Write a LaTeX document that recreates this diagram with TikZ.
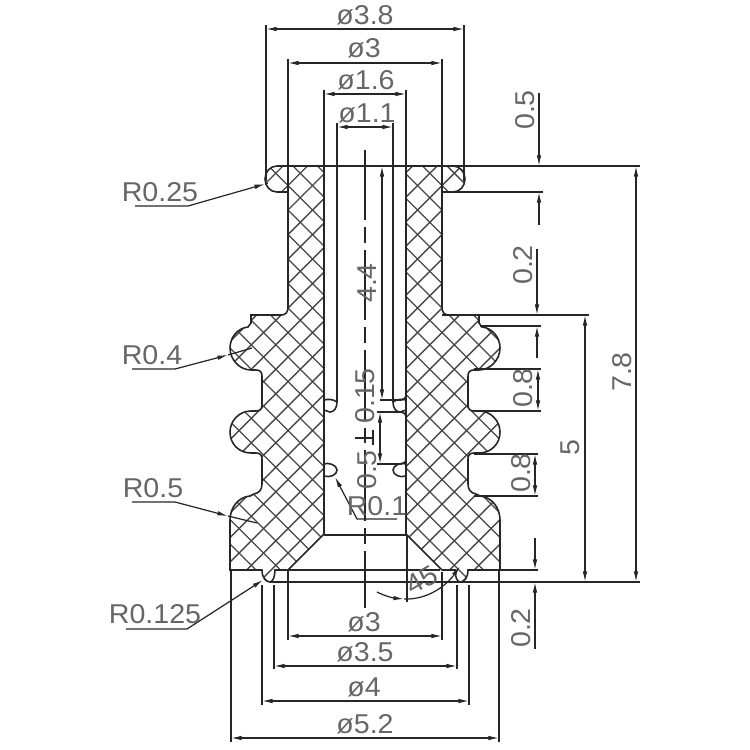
\documentclass[tikz,border=0pt]{standalone}
\usepackage{fontspec}
\setmainfont[FakeStretch=1.05]{Liberation Sans}
\usetikzlibrary{arrows.meta}
\tikzstyle{outline}=[draw=black!85,line width=0.9pt]
\tikzstyle{hatchline}=[draw=black!72,line width=0.8pt]
\tikzstyle{thinline}=[draw=black!85,line width=0.7pt]
\tikzstyle{dimline}=[thinline,>={Latex[length=6pt,width=2.6pt]}]
\tikzstyle{dimtext}=[font=\fontsize{15.5}{16}\selectfont,text=black!60,inner sep=0pt]
\tikzstyle{dimtextup}=[dimtext,rotate=90]

% left half of the cut section, the right one is its mirror image
\def\halfbody{(277,166) .. controls (270,166) and (265,172) .. (265,179)
  .. controls (265,186) and (270,192) .. (277,192) -- (288,192) -- (288,307)
  .. controls (288,312) and (286,315) .. (281,315) -- (251,315) -- (251,323) -- (248,327)
  .. controls (238,328) and (230,337) .. (230,348)
  .. controls (230,360) and (240,370) .. (251,370) -- (256,370)
  .. controls (260,370) and (262,372) .. (262,376) -- (262,405)
  .. controls (262,409) and (260,411) .. (256,411) -- (251,411)
  .. controls (239,411) and (230,421) .. (230,432)
  .. controls (230,444) and (239,453) .. (251,453) -- (256,453)
  .. controls (260,453) and (262,455) .. (262,459) -- (262,484)
  .. controls (262,490) and (259,493) .. (254,494) -- (250,496)
  .. controls (238,497) and (230,508) .. (230,520) -- (230,570) -- (262,570)
  .. controls (262,578) and (266,582) .. (270,582)
  .. controls (273,582) and (275,576) .. (275,570) -- (288,570) -- (324,534) -- (324,166) -- cycle}

\def\halfdetail{
  \begin{scope}
    \clip \halfbody;
    \foreach \k in {-6,...,18} {
      \pgfmathsetmacro{\c}{498+24.5*\k}
      \pgfmathsetmacro{\d}{-78+24.5*\k}
      \draw[hatchline] (200,\c-200) -- (360,\c-360);
      \draw[hatchline] (200,200+\d) -- (360,360+\d);
    }
  \end{scope}
  \draw[outline] \halfbody;
  \draw[outline] (337,166) -- (337,402) .. controls (337,408) and (334,412) .. (330,412) -- (324,410);
  \draw[outline] (324,400) .. controls (328,399) and (333,399) .. (337,402);
  \draw[outline] (324,464) .. controls (328,462) and (337,465) .. (337,470)
    .. controls (337,475) and (330,478) .. (324,476);
}

\begin{document}
\begin{tikzpicture}[x=0.02cm,y=-0.02cm]

  \useasboundingbox (0,0) rectangle (750,750);

  \halfdetail
  \begin{scope}[shift={(730,0)},xscale=-1]
    \halfdetail
  \end{scope}

  % inner groove on the right and the floor of the bore
  \draw[outline] (380,400) -- (401,400) .. controls (404,400) and (406,398) .. (406,394);
  \draw[outline] (377,412) -- (401,412) .. controls (404,412) and (406,414) .. (406,418) -- (406,458)
    .. controls (406,462) and (404,464) .. (401,464) -- (377,464);
  \draw[outline] (324,535) -- (406,535);

  % long horizontal lines
  \foreach \xa/\xb/\y in {277/640/166, 442/543/192, 442/589/315, 480/541/326, 474/541/369, 474/541/411,
      474/538/454, 474/538/496, 275/440/570, 468/538/570, 270/640/582}
    \draw[thinline] (\xa,\y) -- (\xb,\y);

  % extension lines
  \foreach \x/\ya/\yb in {266/25/181, 464/25/181, 288/59/192, 442/59/192, 324/90/166, 406/90/166,
      337/123/166, 393/123/166, 231/570/742, 499/570/742, 262/585/705, 469/585/705,
      274/585/669, 457/585/669, 288/570/640, 442/572/640, 407/535/602}
    \draw[thinline] (\x,\ya) -- (\x,\yb);

  \draw[thinline,dash pattern=on 40pt off 4pt on 9pt off 4pt] (365,150) -- (365,608);
  \draw[thinline] (355,438) -- (373,438) (373,430) -- (373,445);

  % dimensions with two tips
  \foreach \xa/\xb/\y in {266/464/29, 288/442/63, 324/406/94, 337/393/127,
      288/442/636, 274/457/666, 262/469/701, 231/499/738}
    \draw[dimline,<->] (\xa,\y) -- (\xb,\y);
  \foreach \x/\ya/\yb in {382/166/400, 380/412/464, 538/369/411, 535/454/496, 585/315/582, 636/166/582}
    \draw[dimline,<->] (\x,\ya) -- (\x,\yb);

  % dimensions with tips from outside
  \foreach \x/\ya/\yb in {539/93/166, 539/225/192, 537/249/315, 537/358/326, 535/538/570, 535/649/582}
    \draw[dimline,->] (\x,\ya) -- (\x,\yb);

  % radius leaders
  \foreach \xa/\xb/\y/\tipx/\tipy in {135/188/206/265/184, 132/175/369/228/355, 132/175/502/228/516,
      126/187/629/263/580, 397/357/519/335/477}
    \draw[dimline,->] (\xa,\y) -- (\xb,\y) -- (\tipx,\tipy);
  \draw[thinline] (265,184) -- (268,183) (228,355) -- (252,348) (228,516) -- (257,523);

  % angle
  \draw[dimline,->] (377,592) .. controls (385,596) and (393,598) .. (404,599);
  \draw[dimline,->] (404,599) .. controls (428,600) and (447,585) .. (460,566);

  \foreach \x/\y/\name/\label in {365/15/diaflange/ø3.8, 364/48/dianeck/ø3, 366/80/diabore/ø1.6,
      367/113/diapin/ø1.1, 160/192/radflange/R0.25, 152/355/radbulge/R0.4, 153/488/radfoot/R0.5,
      155/614/radnotch/R0.125, 377/506/radgroove/R0.1, 364/622/diamouth/ø3, 365/652/dianotchin/ø3.5,
      364/687/dianotchout/ø4, 365/724/diafoot/ø5.2}
    \node[dimtext] (\name) at (\x,\y) {\label};

  \foreach \x/\y/\name/\label in {525/110/hflange/0.5, 523/265/hneck/0.2, 367/283/hbore/4.4,
      365/396/hstep/0.15, 367/470/hgroove/0.5, 523/388/hwaista/0.8, 521/473/hwaistb/0.8,
      521/628/hfoot/0.2, 570/448/hbody/5, 622/372/htotal/7.8}
    \node[dimtextup] (\name) at (\x,\y) {\label};

  \node[dimtext,rotate=30] (angle) at (422,580) {45};

\end{tikzpicture}
\end{document}
